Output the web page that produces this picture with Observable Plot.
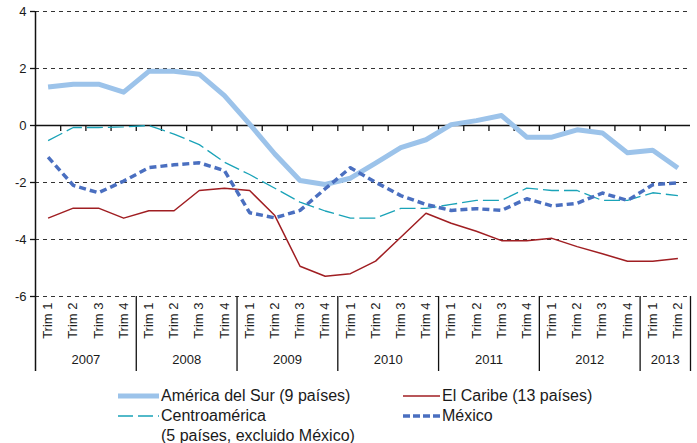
<!DOCTYPE html>
<html>
<head>
<meta charset="utf-8">
<script src="https://cdn.jsdelivr.net/npm/d3@7"></script>
<script src="https://cdn.jsdelivr.net/npm/@observablehq/plot@0.6"></script>
<style>
  body { margin: 0; background: #fff; font-family: "Liberation Sans", Arial, sans-serif; }
  #chart { width: 697px; }
  .legend { position: relative; width: 697px; height: 65px; font-size: 16px; color: #1a1a1a; }
  .item { position: absolute; display: flex; align-items: center; white-space: nowrap; height: 20px; }
  .item svg { display: block; }
  .item span { margin-left: 2px; }
</style>
</head>
<body>
<div id="chart"></div>
<script>
const quarters = ["Trim 1","Trim 2","Trim 3","Trim 4","Trim 1","Trim 2","Trim 3","Trim 4",
  "Trim 1","Trim 2","Trim 3","Trim 4","Trim 1","Trim 2","Trim 3","Trim 4",
  "Trim 1","Trim 2","Trim 3","Trim 4","Trim 1","Trim 2","Trim 3","Trim 4",
  "Trim 1","Trim 2"];
const years = ["2007","2008","2009","2010","2011","2012","2013"];
const quartersPerYear = [4,4,4,4,4,4,2];
const yTicks = [-6,-4,-2,0,2,4];

const americaDelSur = [1.35,1.45,1.45,1.17,1.9,1.9,1.8,1.05,0.05,-1.0,-1.93,-2.07,-1.85,-1.32,-0.78,-0.5,0.03,0.17,0.35,-0.41,-0.41,-0.15,-0.26,-0.96,-0.87,-1.49];
const elCaribe = [-3.25,-2.9,-2.9,-3.25,-2.99,-2.99,-2.28,-2.2,-2.28,-3.16,-4.94,-5.29,-5.2,-4.76,-3.92,-3.08,-3.43,-3.71,-4.04,-4.04,-3.96,-4.25,-4.5,-4.76,-4.76,-4.67];
const centroamerica = [-0.53,-0.07,-0.07,-0.05,0.0,-0.3,-0.67,-1.29,-1.72,-2.2,-2.69,-3.0,-3.25,-3.25,-2.91,-2.91,-2.77,-2.63,-2.63,-2.2,-2.28,-2.28,-2.63,-2.63,-2.36,-2.46];
const mexico = [-1.11,-2.1,-2.36,-1.95,-1.48,-1.38,-1.31,-1.58,-3.06,-3.24,-2.98,-2.22,-1.48,-1.99,-2.46,-2.77,-2.98,-2.92,-2.98,-2.57,-2.82,-2.73,-2.37,-2.63,-2.08,-2.01];

const series = [
  {name: "América del Sur (9 países)", values: americaDelSur, color: "#9cc3ea", width: 5, dash: null, legendDash: null},
  {name: "El Caribe (13 países)", values: elCaribe, color: "#a01e22", width: 1.5, dash: null, legendDash: null},
  {name: "Centroamérica (5 países, excluido México)", values: centroamerica, color: "#1aa3b8", width: 1.3, dash: "16,5", legendDash: "15,5"},
  {name: "México", values: mexico, color: "#4a6fc0", width: 3.5, dash: "7,4", legendDash: "7,3"}
];

const idx = quarters.map((q, i) => i);
const bounds = d3.range(1, quarters.length);
let start = 0;
const yearInfo = years.map((y, i) => {
  const n = quartersPerYear[i];
  const o = {year: y, start, center: start + (n - 1) / 2, end: start + n};
  start += n;
  return o;
});

const lineMarks = series.map(s => Plot.line(idx, {
  x: i => i, y: i => s.values[i],
  stroke: s.color, strokeWidth: s.width, strokeDasharray: s.dash,
  strokeLinejoin: "round", strokeLinecap: "butt"
}));

const chart = Plot.plot({
  width: 697, height: 378,
  marginLeft: 35, marginRight: 7, marginTop: 11, marginBottom: 82,
  x: {domain: [-0.5, quarters.length - 0.5], axis: null},
  y: {domain: [-6, 4], axis: null},
  style: {fontFamily: "'Liberation Sans', Arial, sans-serif", fontSize: "13px", color: "#1a1a1a", background: "#fff", overflow: "visible"},
  marks: [
    Plot.ruleY(yTicks.filter(d => d !== 0), {y: d => d, stroke: "#333", strokeWidth: 1, strokeDasharray: "4,4"}),
    Plot.ruleY([0], {y: d => d, stroke: "#111", strokeWidth: 1.5}),
    Plot.ruleX(bounds, {x: d => d - 0.5, y1: 0, y2: 0, insetBottom: -6, stroke: "#111", strokeWidth: 1.3}),
    Plot.ruleX([-0.5], {x: d => d, y1: 4, y2: -6, insetBottom: -75, stroke: "#111", strokeWidth: 1.5}),
    Plot.ruleX(yearInfo.slice(1).map(d => d.start).concat([quarters.length]), {x: d => d - 0.5, y1: -6, y2: -6, insetBottom: -75, stroke: "#111", strokeWidth: 1.3}),
    Plot.ruleY(yTicks, {y: d => d, x1: -0.5, x2: -0.5, insetLeft: -5, stroke: "#111", strokeWidth: 1.3}),
    Plot.text(yTicks, {x: -0.5, y: d => d, text: d => String(d), textAnchor: "end", dx: -9, fill: "#1a1a1a"}),
    Plot.text(idx, {x: i => i, y: -6, text: i => quarters[i], rotate: -90, textAnchor: "end", dy: 6, fill: "#1a1a1a"}),
    Plot.text(yearInfo, {x: d => d.center, y: -6, text: d => d.year, dy: 63, fill: "#1a1a1a"}),
    ...lineMarks
  ]
});
document.getElementById("chart").append(chart);

const legend = document.createElement("div");
legend.className = "legend";
const items = [
  {s: series[0], left: 118, top: 8, sw: 41, lines: ["América del Sur (9 países)"]},
  {s: series[2], left: 118, top: 28, sw: 41, lines: ["Centroamérica", "(5 países, excluido México)"]},
  {s: series[1], left: 403, top: 8, sw: 37, lines: ["El Caribe (13 países)"]},
  {s: series[3], left: 403, top: 28, sw: 37, lines: ["México"]}
];
items.forEach(it => {
  it.lines.forEach((txt, k) => {
    const div = document.createElement("div");
    div.className = "item";
    div.style.left = it.left + "px";
    div.style.top = (it.top + k * 20) + "px";
    const svg = d3.create("svg").attr("width", it.sw).attr("height", 10);
    if (k === 0) {
      svg.append("line").attr("x1", 0).attr("x2", it.sw).attr("y1", 5).attr("y2", 5)
        .attr("stroke", it.s.color).attr("stroke-width", it.s.width)
        .attr("stroke-dasharray", it.s.legendDash);
    }
    div.append(svg.node());
    const span = document.createElement("span");
    span.textContent = txt;
    div.append(span);
    legend.append(div);
  });
});
document.body.append(legend);
</script>
</body>
</html>
